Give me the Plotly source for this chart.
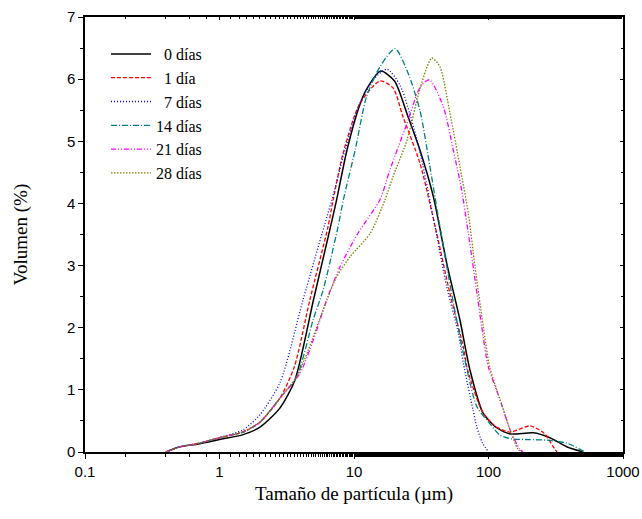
import plotly.graph_objects as go

# ---- data ----
names = ["\u00a0\u00a00 días", "\u00a0\u00a01 día", "\u00a0\u00a07 días", "14 días", "21 días", "28 días"]

x0 = [0.4, 0.5, 0.7, 1.0, 1.5, 2.0, 2.82, 3.64, 5.0, 6.6, 7.43, 8.87, 11.1, 12.5, 15.8, 20, 25, 30.9, 38.9, 48.9, 61.4, 72.8, 91, 115, 145, 215, 286, 385, 505]
y0 = [0, 0.08, 0.13, 0.2, 0.28, 0.40, 0.71, 1.16, 2.45, 3.57, 4.06, 4.86, 5.6, 5.85, 6.13, 5.97, 5.42, 4.86, 4.11, 3.04, 2.12, 1.32, 0.63, 0.39, 0.29, 0.31, 0.23, 0.08, 0.0]

x1 = [0.4, 0.5, 0.7, 1.0, 1.5, 2.0, 2.82, 3.6, 4.7, 6.4, 7.0, 8.3, 11, 15.6, 19.5, 23.1, 30.9, 41.2, 51.7, 65, 70, 91, 115, 145, 204, 260, 300, 323]
y1 = [0, 0.08, 0.14, 0.23, 0.32, 0.48, 0.87, 1.37, 2.45, 3.62, 4.06, 4.81, 5.6, 5.97, 5.86, 5.4, 4.65, 3.52, 2.55, 1.69, 1.32, 0.63, 0.4, 0.32, 0.42, 0.3, 0.1, 0.0]

x7 = [0.4, 0.5, 0.7, 1.0, 1.5, 2.0, 2.82, 4.18, 6.3, 6.86, 8.57, 11, 14, 17.6, 22, 30, 40, 48.9, 59.7, 65, 76.7, 81.7, 90, 100]
y7 = [0, 0.08, 0.14, 0.23, 0.36, 0.6, 1.12, 2.45, 3.79, 4.06, 4.86, 5.6, 6.0, 6.16, 5.9, 4.95, 3.63, 2.66, 1.91, 1.43, 0.68, 0.41, 0.15, 0.0]

x14 = [0.4, 0.5, 0.7, 1.0, 1.5, 2.0, 2.82, 3.75, 4.97, 5.9, 7.6, 8.34, 10.2, 12.4, 15.6, 20.2, 25.3, 30.9, 36.7, 43.5, 53.2, 65, 82, 102, 122, 150, 200, 272, 385, 520]
y14 = [0, 0.08, 0.14, 0.23, 0.32, 0.48, 0.87, 1.21, 2.13, 2.61, 3.62, 4.06, 4.86, 5.72, 6.2, 6.49, 6.09, 5.5, 4.59, 3.63, 2.55, 1.59, 0.73, 0.46, 0.27, 0.21, 0.2, 0.19, 0.14, 0.0]

x21 = [0.4, 0.5, 0.7, 1.0, 1.5, 2.0, 2.82, 3.97, 4.98, 6.27, 7.87, 10.7, 15.6, 18.5, 24.8, 31, 36.3, 46.1, 54.7, 63.1, 70.8, 79.4, 89, 99.7, 122, 145, 170, 180]
y21 = [0, 0.08, 0.14, 0.23, 0.33, 0.48, 0.87, 1.27, 1.80, 2.45, 2.98, 3.52, 4.06, 4.54, 5.29, 5.87, 5.99, 5.56, 4.86, 4.22, 3.52, 2.77, 2.02, 1.37, 0.84, 0.35, 0.05, 0.0]

x28 = [0.4, 0.5, 0.7, 1.0, 1.5, 2.0, 2.82, 3.75, 4.57, 5.9, 7.43, 9.33, 13.2, 17, 19.5, 24.8, 31, 37.9, 43.5, 51.7, 61.4, 70.8, 79.4, 91.4, 102, 122, 145, 165, 175]
y28 = [0, 0.08, 0.14, 0.23, 0.33, 0.48, 0.87, 1.21, 1.64, 2.29, 2.82, 3.14, 3.52, 4.06, 4.43, 5.02, 5.85, 6.34, 6.2, 5.45, 4.59, 3.84, 2.98, 2.02, 1.37, 0.84, 0.35, 0.05, 0.0]

xs = [x0, x1, x7, x14, x21, x28]
ys = [y0, y1, y7, y14, y21, y28]

x_ticks = [0.1, 1, 10, 100, 1000]
x_ticklabels = ["0.1", "1", "10", "100", "1000"]
y_ticks = [0, 1, 2, 3, 4, 5, 6, 7]

colors = ["#000000", "#FF0000", "#0000FF", "#008080", "#FF00FF", "#808000"]
dashes = ["solid", "4px,2px", "1px,2px", "6px,2px,1px,2px", "5px,2px,1px,2px,1px,2px", "1.5px,1.5px"]
widths = [1.5, 1.3, 1.3, 1.3, 1.3, 1.3]

fig = go.Figure()
for n, x, y, c, d, w in zip(names, xs, ys, colors, dashes, widths):
    fig.add_trace(go.Scatter(x=x, y=y, mode="lines", name=n,
                             line=dict(color=c, dash=d, width=w, shape="spline", smoothing=0.7)))

tickfont = dict(family="Liberation Sans, Arial", size=15, color="black")
titlefont = dict(family="Liberation Serif, Times New Roman", size=19, color="black")

fig.update_layout(
    width=642, height=519,
    margin=dict(l=85, r=19, t=17, b=67, autoexpand=False),
    paper_bgcolor="white", plot_bgcolor="white",
    showlegend=True,
    legend=dict(x=0.039, y=0.954, xanchor="left", yanchor="top",
                font=dict(family="Liberation Serif, Times New Roman", size=16, color="black"),
                bgcolor="rgba(0,0,0,0)", tracegroupgap=0, itemwidth=40),
    xaxis=dict(type="log", range=[-1, 3], tickvals=x_ticks, ticktext=x_ticklabels, automargin=False,
               ticks="outside", ticklen=5, tickwidth=1.3, tickcolor="black",
               minor=dict(ticks="outside", ticklen=3, tickwidth=1, tickcolor="black", showgrid=False),
               showline=True, linecolor="black", linewidth=1.5, showgrid=False, zeroline=False,
               tickfont=tickfont,
               title=dict(text="Tamaño de partícula (µm)", font=titlefont, standoff=8)),
    yaxis=dict(range=[0, 7], tickvals=y_ticks, automargin=False,
               ticks="outside", ticklen=5, tickwidth=1.3, tickcolor="black",
               minor=dict(ticks="outside", ticklen=3, tickwidth=1, tickcolor="black", dtick=0.5, showgrid=False),
               showline=True, linecolor="black", linewidth=1.5, showgrid=False, zeroline=False,
               tickfont=tickfont,
               title=dict(text="Volumen (%)", font=titlefont, standoff=34)),
    xaxis2=dict(type="log", range=[-1, 3], overlaying="x", side="top", tickvals=x_ticks, automargin=False,
                showticklabels=False, ticks="inside", ticklen=3, tickwidth=1, tickcolor="black",
                minor=dict(ticks="inside", ticklen=2, tickwidth=1, tickcolor="black", showgrid=False),
                showline=True, linecolor="black", linewidth=1.5, showgrid=False, zeroline=False),
    yaxis2=dict(range=[0, 7], overlaying="y", side="right", tickvals=y_ticks, automargin=False,
                showticklabels=False, ticks="inside", ticklen=3, tickwidth=1, tickcolor="black",
                minor=dict(ticks="inside", ticklen=2, tickwidth=1, tickcolor="black", dtick=0.5, showgrid=False),
                showline=True, linecolor="black", linewidth=1.5, showgrid=False, zeroline=False),
)
# invisible helper trace to activate the mirrored axes
fig.add_trace(go.Scatter(x=[x_ticks[0]], y=[y_ticks[0]], xaxis="x2", yaxis="y2", mode="markers",
                         marker=dict(opacity=0), showlegend=False, hoverinfo="skip"))

fig.write_html("out.html")
